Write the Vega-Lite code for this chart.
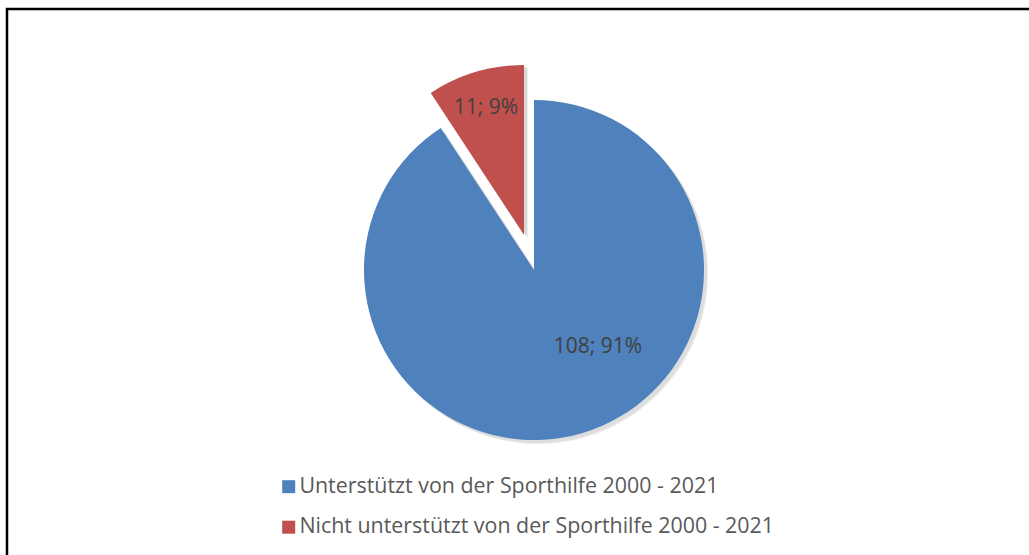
{
  "$schema": "https://vega.github.io/schema/vega-lite/v6.json",
  "width": 1060,
  "height": 560,
  "autosize": {"type": "none"},
  "padding": {"left": 7, "top": 9, "right": 0, "bottom": 0},
  "background": "white",
  "view": {"stroke": "black", "strokeWidth": 2.5},
  "config": {
    "font": "Open Sans"
  },
  "data": {
    "values": [
      {"cat": "Unterstützt von der Sporthilfe 2000 - 2021", "value": 108, "label": "108; 91%"},
      {"cat": "Nicht unterstützt von der Sporthilfe 2000 - 2021", "value": 11, "label": "11; 9%"}
    ]
  },
  "encoding": {
    "theta": {"field": "value", "type": "quantitative", "stack": true},
    "order": {"field": "value", "type": "quantitative", "sort": "descending"}
  },
  "layer": [
    {
      "mark": {"type": "arc", "radius": 170, "xOffset": 0, "yOffset": -16, "color": "#000000"},
      "encoding": {
        "detail": {"field": "cat"},
        "opacity": {"condition": {"test": "datum.value == 108", "value": 0.06}, "value": 0}
      }
    },
    {
      "mark": {"type": "arc", "radius": 170, "xOffset": 1, "yOffset": -15, "color": "#000000"},
      "encoding": {
        "detail": {"field": "cat"},
        "opacity": {"condition": {"test": "datum.value == 108", "value": 0.08}, "value": 0}
      }
    },
    {
      "mark": {"type": "arc", "radius": 170, "xOffset": -9, "yOffset": -51, "color": "#000000"},
      "encoding": {
        "detail": {"field": "cat"},
        "opacity": {"condition": {"test": "datum.value == 11", "value": 0.06}, "value": 0}
      }
    },
    {
      "mark": {"type": "arc", "radius": 170, "xOffset": -10, "yOffset": -52, "color": "#000000"},
      "encoding": {
        "detail": {"field": "cat"},
        "opacity": {"condition": {"test": "datum.value == 11", "value": 0.1}, "value": 0}
      }
    },
    {
      "mark": {"type": "arc", "radius": 170, "xOffset": -3, "yOffset": -19},
      "encoding": {
        "color": {
          "field": "cat",
          "type": "nominal",
          "scale": {
            "domain": ["Unterstützt von der Sporthilfe 2000 - 2021", "Nicht unterstützt von der Sporthilfe 2000 - 2021"],
            "range": ["#4F81BD", "#C0504D"]
          },
          "legend": {
            "title": null,
            "orient": "none",
            "legendX": 271,
            "legendY": 467,
            "direction": "vertical",
            "padding": 0,
            "symbolType": "square",
            "symbolSize": 169,
            "symbolStrokeWidth": 0,
            "symbolOpacity": 1,
            "labelFont": "Open Sans",
            "labelFontSize": 21.4,
            "labelColor": "#595959",
            "labelOffset": 0,
            "rowPadding": 17.5,
            "labelLimit": 0
          }
        },
        "opacity": {"condition": {"test": "datum.value == 108", "value": 1}, "value": 0}
      }
    },
    {
      "mark": {"type": "arc", "radius": 170, "xOffset": -13, "yOffset": -54},
      "encoding": {
        "color": {"field": "cat", "type": "nominal"},
        "opacity": {"condition": {"test": "datum.value == 11", "value": 1}, "value": 0}
      }
    },
    {
      "mark": {"type": "text", "radius": 80, "dx": 38, "dy": -19, "fontSize": 21, "color": "#404040", "baseline": "middle", "align": "center"},
      "encoding": {
        "detail": {"field": "cat"},
        "text": {"field": "label"},
        "opacity": {"condition": {"test": "datum.value == 108", "value": 1}, "value": 0}
      }
    },
    {
      "mark": {"type": "text", "radius": 133, "dx": -13, "dy": -54, "fontSize": 21, "color": "#404040", "baseline": "middle", "align": "center"},
      "encoding": {
        "detail": {"field": "cat"},
        "text": {"field": "label"},
        "opacity": {"condition": {"test": "datum.value == 11", "value": 1}, "value": 0}
      }
    }
  ]
}
